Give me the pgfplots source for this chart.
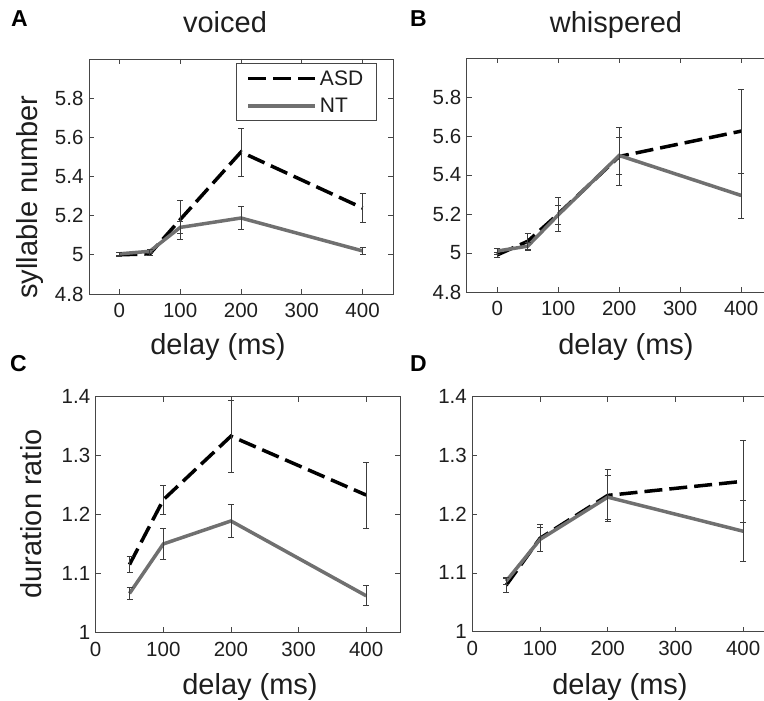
\documentclass[border=0pt]{standalone}
\usepackage{pgfplots}
\pgfplotsset{compat=1.18}
\usepackage{fontspec}
\setmainfont{Liberation Sans}

\definecolor{ntgray}{RGB}{112,112,112}
\definecolor{axgray}{RGB}{70,70,70}
\definecolor{errgray}{RGB}{60,60,60}
\definecolor{txt}{RGB}{30,30,30}

\newcommand{\ticksize}{\fontsize{20.5}{24}\selectfont}
\newcommand{\labsize}{\fontsize{29}{34}\selectfont}
\newcommand{\letsize}{\fontsize{23}{26}\selectfont\bfseries}

\pgfplotsset{
  panel/.style={
    scale only axis,
    axis line style={draw=axgray, line width=0.9pt},
    tick style={draw=axgray, line width=0.8pt},
    tick align=inside,
    major tick length=5pt,
    tick label style={font=\ticksize, text=txt},
    /pgf/number format/assume math mode=true,
    xticklabel style={yshift=-6pt},
    yticklabel style={xshift=-2pt},
    xtick={0,100,200,300,400},
    clip=false,
  },
  sylpanel/.style={panel, xmin=-50, xmax=450, ymin=4.8, ymax=6,
    ytick={4.8,5,5.2,5.4,5.6,5.8}},
  durpanel/.style={panel, xmin=0, xmax=450, ymin=1, ymax=1.4,
    ytick={1,1.1,1.2,1.3,1.4}},
  asd/.style={black, line width=3.5pt, dash pattern=on 18pt off 7pt},
  nt/.style={ntgray, line width=3.5pt},
  ebar/.style={error bars/.cd, y dir=both, y explicit,
    error bar style={solid, line width=0.75pt, errgray},
    error mark options={rotate=90, solid, line width=0.75pt, errgray, mark size=3pt}},
}

\begin{document}
\begin{tikzpicture}
\useasboundingbox (0,0) rectangle (764pt,701pt);

% A: voiced, syllable number
\begin{axis}[sylpanel, at={(89pt,407pt)}, anchor=south west, width=304pt, height=235pt,
  legend cell align=left,
  legend image code/.code={\draw[#1] (0pt,0pt) -- (67pt,0pt);},
  legend style={at={(0.946,0.982)}, anchor=north east, draw=axgray, line width=0.8pt,
    font=\fontsize{21}{24}\selectfont, text=txt, inner xsep=10pt, inner ysep=5pt,
    row sep=7pt, nodes={inner xsep=3pt, inner ysep=2pt}}]
\addplot[asd, ebar] table[x=x, y=y, y error=e] {
x y e
0 5.000 0.010
50 5.005 0.010
100 5.180 0.100
200 5.525 0.123
400 5.239 0.074
};
\addplot[nt, ebar] table[x=x, y=y, y error=e] {
x y e
0 5.005 0.010
50 5.018 0.010
100 5.140 0.030
200 5.188 0.060
400 5.020 0.020
};
\legend{ASD, NT}
\end{axis}

% B: whispered, syllable number
\begin{axis}[sylpanel, at={(466.7pt,409pt)}, anchor=south west, width=305pt, height=234pt]
\addplot[asd, ebar] table[x=x, y=y, y error=e] {
x y e
0 4.990 0.015
50 5.060 0.040
100 5.200 0.087
200 5.495 0.150
400 5.625 0.215
};
\addplot[nt, ebar] table[x=x, y=y, y error=e] {
x y e
0 5.010 0.015
50 5.035 0.020
100 5.195 0.050
200 5.500 0.095
400 5.295 0.115
};
\end{axis}

% C: voiced, duration ratio
\begin{axis}[durpanel, at={(95.7pt,68.7pt)}, anchor=south west, width=304.3pt, height=235.6pt]
\addplot[asd, ebar] table[x=x, y=y, y error=e] {
x y e
50 1.115 0.014
100 1.225 0.025
200 1.333 0.061
400 1.233 0.056
};
\addplot[nt, ebar] table[x=x, y=y, y error=e] {
x y e
50 1.066 0.010
100 1.150 0.026
200 1.189 0.028
400 1.062 0.017
};
\end{axis}

% D: whispered, duration ratio
\begin{axis}[durpanel, at={(472.3pt,69.3pt)}, anchor=south west, width=304.7pt, height=235pt]
\addplot[asd, ebar] table[x=x, y=y, y error=e] {
x y e
50 1.079 0.012
100 1.159 0.023
200 1.232 0.045
400 1.256 0.070
};
\addplot[nt, ebar] table[x=x, y=y, y error=e] {
x y e
50 1.086 0.006
100 1.157 0.021
200 1.229 0.037
400 1.171 0.052
};
\end{axis}

% titles, axis labels, panel letters
\begin{scope}[every node/.style={text=txt, inner sep=0pt}]
\node[font=\labsize, anchor=base] at (225pt,668pt) {voiced};
\node[font=\labsize, anchor=base] at (616pt,668pt) {whispered};
\node[font=\labsize, anchor=base] at (218pt,346pt) {delay (ms)};
\node[font=\labsize, anchor=base] at (626pt,346pt) {delay (ms)};
\node[font=\labsize, anchor=base] at (250pt,6pt) {delay (ms)};
\node[font=\labsize, anchor=base] at (620pt,6pt) {delay (ms)};
\node[font=\labsize, rotate=90, anchor=base] at (37pt,504pt) {syllable number};
\node[font=\labsize, rotate=90, anchor=base] at (41.7pt,187pt) {duration ratio};
\node[font=\letsize, text=black, anchor=base west] at (11pt,674pt) {A};
\node[font=\letsize, text=black, anchor=base west] at (410pt,674pt) {B};
\node[font=\letsize, text=black, anchor=base west] at (10pt,329.3pt) {C};
\node[font=\letsize, text=black, anchor=base west] at (410pt,329.3pt) {D};
\end{scope}
\end{tikzpicture}
\end{document}
